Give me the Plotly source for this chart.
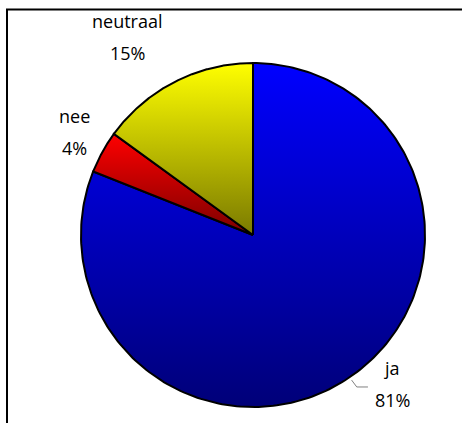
import numpy as np
import plotly.graph_objects as go

# Survey answers and their shares (percent)
categories = ["ja", "nee", "neutraal"]
shares = [81, 4, 15]
percent_labels = ["81%", "4%", "15%"]

# Slice colours: bright at the top of each slice, darker toward the bottom
top_colors = ["#0000FF", "#FF0000", "#FFFF00"]
bottom_colors = ["#000078", "#7A0000", "#7A7A00"]

FONT = dict(family="Comic Sans MS, Open Sans, sans-serif", size=18, color="black")

fig = go.Figure()

total = float(sum(shares))
start_deg = 0.0  # clockwise from 12 o'clock
mids = []
for name, val, c_top, c_bot in zip(categories, shares, top_colors, bottom_colors):
    span = 360.0 * val / total
    th = np.radians(np.linspace(start_deg, start_deg + span, 240))
    xs = np.concatenate([[0.0], np.sin(th), [0.0]])
    ys = np.concatenate([[0.0], np.cos(th), [0.0]])
    fig.add_trace(go.Scatter(
        x=xs, y=ys, mode="lines", fill="toself",
        line=dict(color="black", width=2),
        fillgradient=dict(
            type="vertical",
            start=float(ys.max()), stop=float(ys.min()),
            colorscale=[[0, c_top], [1, c_bot]],
        ),
        name=name, hoverinfo="skip", showlegend=False,
    ))
    mids.append(np.radians(start_deg + span / 2))
    start_deg += span

# Outside labels: placed along each slice's mid-angle, nudged clear of the pie
label_r = 1.19
nudges = {"ja": (24, 20), "nee": (1, 4), "neutraal": (-33, 16)}
line_gap = 16
for name, pct, m in zip(categories, percent_labels, mids):
    lx, ly = label_r * np.sin(m), label_r * np.cos(m)
    dx, dy = nudges[name]
    fig.add_annotation(x=lx, y=ly, text=name, showarrow=False, font=FONT,
                       xshift=dx, yshift=dy + line_gap, xanchor="center", yanchor="middle")
    fig.add_annotation(x=lx, y=ly, text=pct, showarrow=False, font=FONT,
                       xshift=dx, yshift=dy - line_gap, xanchor="center", yanchor="middle")

# Leader line for the "ja" label
m = mids[0]
px0, py0 = 1.02 * np.sin(m), 1.02 * np.cos(m)
fig.add_trace(go.Scatter(
    x=[px0, px0 + 0.03, px0 + 0.095],
    y=[py0, py0 - 0.04, py0 - 0.04],
    mode="lines", line=dict(color="#808080", width=1),
    hoverinfo="skip", showlegend=False,
))

# Chart frame (left and top edges)
fig.add_shape(type="line", xref="paper", yref="paper",
              x0=7 / 471, x1=7 / 471, y0=0, y1=1 - 9.5 / 423,
              line=dict(color="black", width=2))
fig.add_shape(type="line", xref="paper", yref="paper",
              x0=6 / 471, x1=462 / 471, y0=1 - 9.5 / 423, y1=1 - 9.5 / 423,
              line=dict(color="black", width=2))

fig.update_layout(
    width=471, height=423,
    margin=dict(l=0, r=0, t=0, b=0),
    paper_bgcolor="white", plot_bgcolor="white",
    xaxis=dict(range=[-253 / 172, 218 / 172], visible=False, fixedrange=True),
    yaxis=dict(range=[-188 / 172, 235 / 172], visible=False, fixedrange=True),
)

fig.write_html("out.html")
